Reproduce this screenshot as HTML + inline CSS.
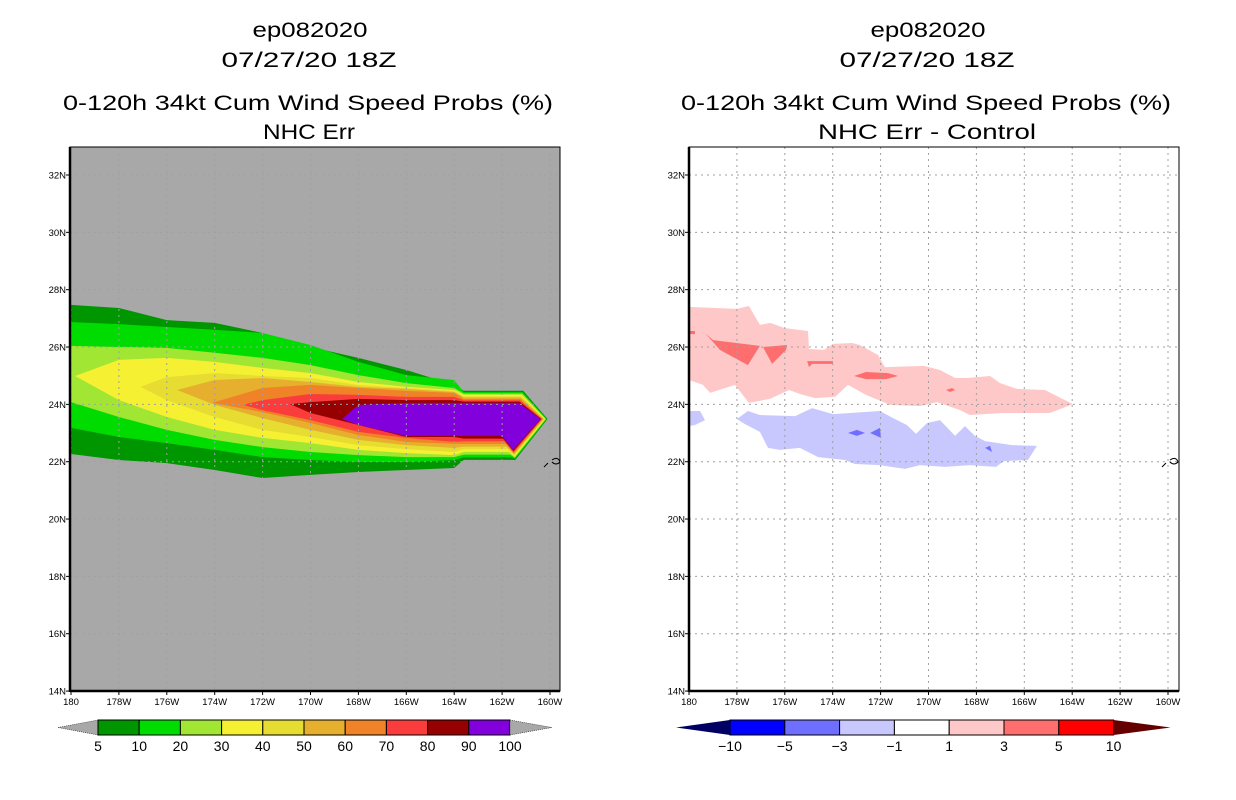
<!DOCTYPE html>
<html><head><meta charset="utf-8">
<style>
html,body{margin:0;padding:0;background:#fff;}
svg{display:block;font-family:"Liberation Sans",sans-serif;}
</style></head>
<body>
<svg id="chart" width="1236" height="800" viewBox="0 0 1236 800">
  <g font-size="21" text-anchor="middle" fill="#000">
    <text x="310" y="37" textLength="115" lengthAdjust="spacingAndGlyphs">ep082020</text>
    <text x="309" y="67" textLength="175" lengthAdjust="spacingAndGlyphs">07/27/20 18Z</text>
    <text x="308" y="110" textLength="490" lengthAdjust="spacingAndGlyphs">0-120h 34kt Cum Wind Speed Probs (%)</text>
    <text x="309" y="139" textLength="92" lengthAdjust="spacingAndGlyphs">NHC Err</text>
    <text x="928" y="37" textLength="115" lengthAdjust="spacingAndGlyphs">ep082020</text>
    <text x="927" y="67" textLength="175" lengthAdjust="spacingAndGlyphs">07/27/20 18Z</text>
    <text x="926" y="110" textLength="490" lengthAdjust="spacingAndGlyphs">0-120h 34kt Cum Wind Speed Probs (%)</text>
    <text x="927" y="139" textLength="218" lengthAdjust="spacingAndGlyphs">NHC Err - Control</text>
  </g>
  <g id="left"></g>
  <g id="right"></g>
  <g id="cbars"></g>
</svg>
<script>
const NS='http://www.w3.org/2000/svg';
// ---- shared axes data ----
const latTicks=[14,16,18,20,22,24,26,28,30,32];
const lonTicks=[0,2,4,6,8,10,12,14,16,18,20]; // degrees west of 180
const lonLabels=['180','178W','176W','174W','172W','170W','168W','166W','164W','162W','160W'];
// ---- left panel: probability levels ----
const probLevels=[5,10,20,30,40,50,60,70,80,90,100];
const probColors=['#009600','#00dc00','#a0e632','#f5f032','#e6dc32','#e6af2d','#f08228','#fa3c3c','#960000','#8200dc'];
const gridLon=[0,2,4,6,8,10,12,14,16];
const bandNose=[null,null,null,[0.17,24.99],[2.9,24.61],[4.43,24.5],[5.89,24.05],[7.18,23.98],[9.15,24.01],[11.32,23.49]];
const bandTop=[
 [27.47,27.36,26.94,26.84,26.49,26.0,25.62,25.2,24.68],
 [26.87,26.8,26.7,26.6,26.49,26.07,25.48,25.02,24.85],
 [26.04,26.0,25.97,25.8,25.62,25.37,25.02,24.74,24.57],
 [null,25.55,25.62,25.48,25.27,25.09,24.78,24.61,24.5],
 [null,null,24.95,25.09,24.99,24.92,24.68,24.57,24.47],
 [null,null,null,24.85,24.92,24.78,24.61,24.54,24.43],
 [null,null,null,null,24.57,24.68,24.57,24.47,24.4],
 [null,null,null,null,24.15,24.36,24.33,24.26,24.26],
 [null,null,null,null,null,24.08,24.19,24.15,24.15],
 [null,null,null,null,null,null,23.98,24.05,24.05]
];
const bandBot=[
 [22.27,22.06,21.95,21.71,21.43,21.54,21.64,21.71,21.78],
 [23.18,22.86,22.65,22.41,22.16,22.06,21.99,21.99,22.06],
 [24.08,23.56,23.11,22.76,22.51,22.34,22.23,22.16,22.16],
 [null,24.15,23.56,23.11,22.83,22.65,22.41,22.3,22.23],
 [null,null,24.15,23.56,23.11,22.86,22.58,22.44,22.34],
 [null,null,null,23.98,23.52,23.11,22.76,22.58,22.48],
 [null,null,null,null,23.73,23.35,22.93,22.69,22.62],
 [null,null,null,null,23.8,23.45,23.04,22.83,22.69],
 [null,null,null,null,null,23.7,23.28,22.86,22.86],
 [null,null,null,null,null,null,23.28,22.9,22.9]
];
const tipTop=[18.7,24.05];
const tipRight=[19.6,23.49];
const tipBottom=[18.46,22.41];
const tipBottomCorner=[17.99,22.9];
// ---- right panel: difference polygons [lonOffset, lat] ----
const pinkArea=[[0,27.4],[2.0,27.33],[2.5,27.43],[2.96,26.77],[3.38,26.84],[4.01,26.66],[4.97,26.56],[5.01,25.93],[5.64,25.9],[6.01,26.11],[6.81,26.14],[7.14,26.07],[7.89,25.72],[8.18,25.3],[9.81,25.34],[10.48,25.2],[11.11,24.92],[11.61,24.92],[12.57,24.99],[12.99,24.74],[13.7,24.54],[14.86,24.5],[16.03,24.01],[15.07,23.7],[13.07,23.7],[11.73,23.63],[11.32,23.8],[10.36,24.08],[9.65,23.94],[8.39,23.98],[7.39,24.33],[6.64,24.68],[6.1,24.26],[5.26,24.22],[4.63,24.36],[4.18,24.5],[3.38,24.19],[2.5,24.05],[1.92,24.68],[0.88,24.4],[0.58,24.68],[0,24.85]];
const redA=[[0.67,26.49],[1.0,26.24],[2.96,26.04],[2.46,25.37],[1.84,25.65],[1.29,25.9]];
const redA0=[[0,26.56],[0.25,26.56],[0.25,26.45],[0,26.45]];
const redB=[[3.09,26.0],[4.09,26.07],[4.05,25.9],[3.47,25.41]];
const redC=[[4.93,25.51],[6.01,25.51],[6.01,25.41],[5.14,25.41],[5.01,25.3]];
const redD=[[6.89,24.99],[7.39,25.13],[8.31,25.09],[8.73,24.99],[8.23,24.88],[7.39,24.88]];
const redE=[[10.73,24.5],[10.98,24.57],[11.11,24.5],[10.9,24.43]];
const blueArea1=[[0,23.77],[0.46,23.77],[0.67,23.45],[0.25,23.28],[0,23.24]];
const blueArea2=[[2.0,23.49],[2.46,23.77],[2.96,23.63],[4.43,23.59],[5.14,23.87],[6.01,23.66],[7.97,23.77],[8.52,23.52],[9.1,23.28],[9.48,22.97],[9.94,23.35],[10.48,23.45],[11.11,22.9],[11.52,23.24],[11.94,22.9],[12.36,22.72],[13.49,22.58],[14.53,22.55],[14.15,22.06],[13.15,22.02],[12.82,21.82],[11.73,21.88],[10.69,21.82],[9.65,21.88],[9.02,21.75],[7.97,21.88],[6.93,21.92],[6.51,22.06],[5.39,22.16],[4.63,22.48],[3.8,22.41],[3.3,22.48],[2.96,23.04],[2.34,23.31]];
const blueDark1=[[6.64,23.0],[7.01,23.11],[7.35,23.0],[7.01,22.9]];
const blueDark2=[[7.56,23.0],[7.97,23.18],[8.02,22.83]];
const blueDark3=[[12.36,22.48],[12.57,22.55],[12.65,22.34]];
const diffLevels=['-10','-5','-3','-1','1','3','5','10'];
const diffColors=['#0000ff','#6e6eff','#c8c8ff','#ffffff','#ffc8c8','#ff6e6e','#ff0000'];

function el(tag,attrs,parent){const e=document.createElementNS(NS,tag);for(const k in attrs)e.setAttribute(k,attrs[k]);parent.appendChild(e);return e;}
function makeAxes(x0){
  const X=d=>x0+d*23.95;
  const Y=lat=>175+(32-lat)*28.67;
  return {X,Y};
}
function pts(arr,ax){return arr.map(p=>ax.X(p[0]).toFixed(1)+','+ax.Y(p[1]).toFixed(1)).join(' ');}
function frame(g,ax,x0,bg,name){
  const r=el('rect',{x:x0,y:147,width:490,height:544,fill:bg},g);
  
  
}
function gridAndAxes(g,ax,x0,name){
  const gg=el('g',{stroke:'#a0a0a0','stroke-width':1,'stroke-dasharray':'2,4'},g);
  
  
  latTicks.forEach(l=>{const ln=el('line',{x1:x0,x2:x0+490,y1:ax.Y(l),y2:ax.Y(l)},gg);
    });
  lonTicks.forEach(d=>{const ln=el('line',{x1:ax.X(d),x2:ax.X(d),y1:147,y2:691},gg);
    });
  const b=el('rect',{x:x0,y:147,width:490,height:544,fill:'none',stroke:'#000','stroke-width':1},g);
  
  const ax1=el('line',{x1:x0,x2:x0,y1:147,y2:692,stroke:'#000','stroke-width':2.5},g);
  
  const ax2=el('line',{x1:x0,x2:x0+490,y1:691,y2:691,stroke:'#000','stroke-width':2.5},g);
  
  latTicks.forEach(l=>{
    const t=el('line',{x1:x0-4,x2:x0,y1:ax.Y(l),y2:ax.Y(l),stroke:'#000'},g);
    
    const tx=el('text',{x:x0-4,y:ax.Y(l)+3.5,'font-size':9.5,'text-anchor':'end'},g);
    tx.textContent=l+'N';
    
  });
  lonTicks.forEach((d,i)=>{
    const t=el('line',{x1:ax.X(d),x2:ax.X(d),y1:691,y2:695,stroke:'#000'},g);
    
    const tx=el('text',{x:ax.X(d),y:705,'font-size':9.5,'text-anchor':'middle'},g);
    tx.textContent=lonLabels[i];
    
  });
}
// LEFT
(function(){
  const g=document.getElementById('left');const x0=71;const ax=makeAxes(x0);
  frame(g,ax,70,'#a8a8a8','left');
  for(let i=0;i<probColors.length;i++){
    const top=[],bot=[];
    if(bandNose[i])top.push(bandNose[i]);
    gridLon.forEach((d,j)=>{if(bandTop[i][j]!=null)top.push([d,bandTop[i][j]]);});
    gridLon.forEach((d,j)=>{if(bandBot[i][j]!=null)bot.push([d,bandBot[i][j]]);});
    const k=probColors.length-1-i;
    const tip=[[16.4,tipTop[1]+k*0.047],[tipTop[0]+k*0.02,tipTop[1]+k*0.047],[tipRight[0]+k*0.033,tipRight[1]],[tipBottom[0]+k*0.01,tipBottom[1]-k*0.039],[tipBottomCorner[0]+k*0.05,tipBottomCorner[1]-k*0.093],[16.4,tipBottomCorner[1]-k*0.093]];
    const poly=top.concat(tip).concat(bot.reverse());
    const p=el('polygon',{points:pts(poly,ax),fill:probColors[i]},g);
    
    
  }
  gridAndAxes(g,ax,70,'left');
  const isl=el('path',{d:'M544 467 l4 -4 M552 460 q6 -4 8 2 q-4 4 -8 0',stroke:'#000',fill:'none','stroke-width':1},g);
  
})();
// RIGHT
(function(){
  const g=document.getElementById('right');const x0=689;const ax=makeAxes(x0);
  frame(g,ax,689,'#ffffff','right');
  const shapes=[[pinkArea,'#ffc8c8','diff-1-to-3'],[redA,'#ff6e6e','diff-3-to-5-a'],[redA0,'#ff6e6e','diff-3-to-5-edge'],[redB,'#ff6e6e','diff-3-to-5-b'],[redC,'#ff6e6e','diff-3-to-5-c'],[redD,'#ff6e6e','diff-3-to-5-d'],[redE,'#ff6e6e','diff-3-to-5-e'],
    [blueArea1,'#c8c8ff','diff-neg1-to-neg3-west'],[blueArea2,'#c8c8ff','diff-neg1-to-neg3'],[blueDark1,'#6e6eff','diff-neg3-to-neg5-a'],[blueDark2,'#6e6eff','diff-neg3-to-neg5-b'],[blueDark3,'#6e6eff','diff-neg3-to-neg5-c']];
  shapes.forEach(s=>{
    const p=el('polygon',{points:pts(s[0],ax),fill:s[1]},g);
    
    
  });
  gridAndAxes(g,ax,689,'right');
  const isl=el('path',{d:'M1162 467 l4 -4 M1170 460 q6 -4 8 2 q-4 4 -8 0',stroke:'#000',fill:'none','stroke-width':1},g);
  
})();
// COLORBARS
(function(){
  const g=document.getElementById('cbars');
  const lx0=98,lw=41.2,y0=720,h=15;
  const lt=el('polygon',{points:`58,${y0+h/2} ${lx0},${y0} ${lx0},${y0+h}`,fill:'#a8a8a8',stroke:'#000','stroke-width':0.5,'stroke-dasharray':'1,1'},g);
  
  probColors.forEach((c,i)=>{
    const r=el('rect',{x:lx0+i*lw,y:y0,width:lw,height:h,fill:c,stroke:'#000','stroke-width':1},g);
    
  });
  const lend=lx0+probColors.length*lw;
  const rt=el('polygon',{points:`${lend},${y0} ${lend+42},${y0+h/2} ${lend},${y0+h}`,fill:'#a8a8a8',stroke:'#000','stroke-width':0.5,'stroke-dasharray':'1,1'},g);
  
  probLevels.forEach((v,i)=>{
    const t=el('text',{x:lx0+i*lw,y:751,'font-size':14,'text-anchor':'middle'},g);
    t.textContent=v;
    
  });
  const rx0=730,rw=54.8;
  const rlt=el('polygon',{points:`676,${y0+h/2} ${rx0},${y0} ${rx0},${y0+h}`,fill:'#000064'},g);
  
  diffColors.forEach((c,i)=>{
    const r=el('rect',{x:rx0+i*rw,y:y0,width:rw,height:h,fill:c,stroke:'#000','stroke-width':1},g);
    
  });
  const rend=rx0+diffColors.length*rw;
  const rrt=el('polygon',{points:`${rend},${y0} ${rend+57},${y0+h/2} ${rend},${y0+h}`,fill:'#640000'},g);
  
  diffLevels.forEach((v,i)=>{
    const t=el('text',{x:rx0+i*rw,y:751,'font-size':14,'text-anchor':'middle'},g);
    t.textContent=v.replace('-','\u2212');
    
  });
})();
</script>
</body></html>
